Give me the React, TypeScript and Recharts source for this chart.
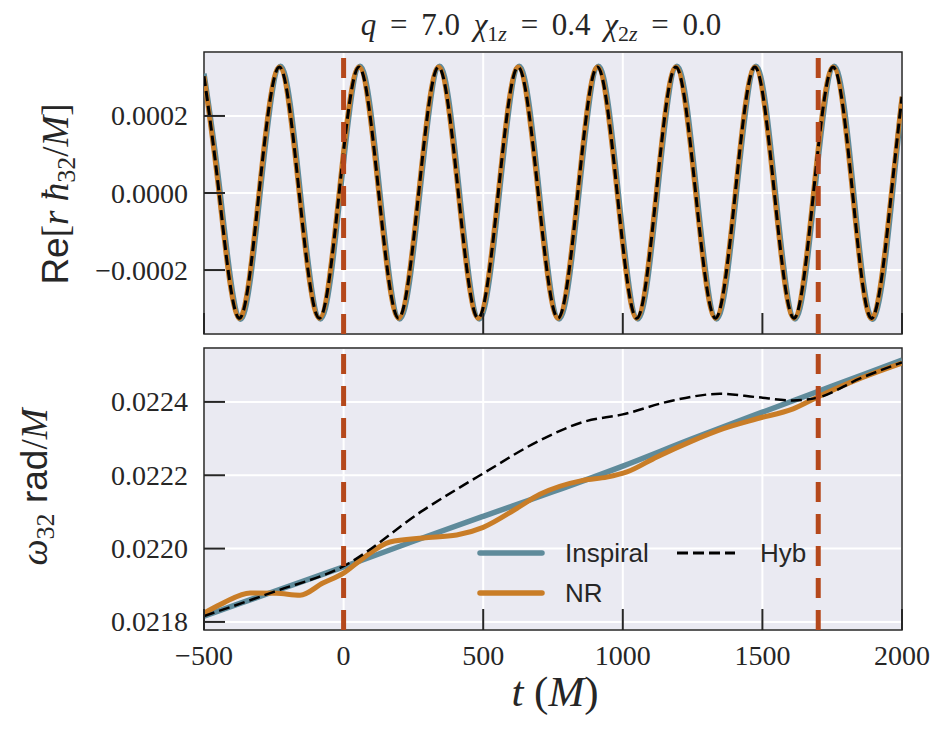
import React from 'react';
import {
  CartesianGrid,
  Line,
  LineChart,
  ReferenceArea,
  ReferenceLine,
  XAxis,
  YAxis,
} from 'recharts';

const xTicks = [-500, 0, 500, 1000, 1500, 2000];
const waveTicks = [-0.0002, 0, 0.0002];
const freqTicks = [0.0218, 0.022, 0.0222, 0.0224];
const matchBounds = [0, 1700];
const xDomain = [-500, 2000];
const waveDomain = [-0.000366, 0.000366];
const freqDomain = [0.021778, 0.022547];

// Re[r h32 / M] -- peaks, troughs and zero crossings
const nrWaveT = [
  -500, -446, -375, -303, -230, -159, -87, -16, 55, 126, 197, 269, 340, 411, 482, 554, 625, 697,
  768, 839, 909, 980, 1050, 1120, 1190, 1261, 1332, 1403, 1473, 1543, 1613, 1683, 1753, 1823,
  1893, 1962, 2000,
];
const nrWave = [
  0.000303, 0, -0.000325, 0, 0.000327, 0, -0.000325, 0, 0.000327, 0, -0.000325, 0, 0.000327, 0,
  -0.000325, 0, 0.000327, 0, -0.000325, 0, 0.000327, 0, -0.000325, 0, 0.000327, 0, -0.000325, 0,
  0.000327, 0, -0.000325, 0, 0.000327, 0, -0.000325, 0, 0.00025,
];
const inspWaveT = [
  -500, -442, -371, -299, -226, -155, -83, -12, 59, 130, 201, 273, 344, 415, 486, 558, 629, 701,
  772, 843, 913, 984, 1054, 1124, 1194, 1265, 1336, 1407, 1477, 1547, 1617, 1687, 1757, 1827,
  1897, 1966, 2000,
];
const inspWave = [
  0.00031, 0, -0.000327, 0, 0.000329, 0, -0.000327, 0, 0.000329, 0, -0.000327, 0, 0.000329, 0,
  -0.000327, 0, 0.000329, 0, -0.000327, 0, 0.000329, 0, -0.000327, 0, 0.000329, 0, -0.000327, 0,
  0.000329, 0, -0.000327, 0, 0.000329, 0, -0.000327, 0, 0.00024,
];

// omega_32 rad/M
const inspFreqT = [-500, -250, 0, 250, 500, 750, 1000, 1250, 1500, 1750, 2000];
const inspFreq = [
  0.021816, 0.021883, 0.02195, 0.02202, 0.022088, 0.022155, 0.022225, 0.0223, 0.022372, 0.022443,
  0.022514,
];
const nrFreqT = [
  -500, -430, -335, -240, -156, -74, 0, 70, 166, 285, 405, 500, 621, 703, 857, 943, 1015, 1122,
  1241, 1360, 1480, 1610, 1700, 1850, 2000,
];
const nrFreq = [
  0.021824, 0.021852, 0.021879, 0.021878, 0.021873, 0.021906, 0.021933, 0.021974, 0.022018,
  0.022029, 0.022037, 0.022058, 0.02211, 0.022148, 0.022186, 0.022195, 0.022209, 0.02225, 0.022291,
  0.022327, 0.022354, 0.022381, 0.022414, 0.022464, 0.022506,
];
const hybFreqT = [-500, -250, 0, 286, 500, 703, 857, 1000, 1180, 1348, 1480, 1610, 1695, 1850, 2000];
const hybFreq = [
  0.021816, 0.021882, 0.021952, 0.022105, 0.022205, 0.022295, 0.022345, 0.022366, 0.022404,
  0.022422, 0.022413, 0.022404, 0.022411, 0.022464, 0.022508,
];

const BLUE = '#5f8b9b';
const ORANGE = '#c97d27';
const RED = '#b5481b';
const INK = '#262626';
const SERIF = '"Liberation Serif", "DejaVu Serif", serif';
const SANS = '"Liberation Sans", "DejaVu Sans", sans-serif';

const toPoints = (ts: number[], vs: number[]) => ts.map((t, i) => ({ t, v: vs[i] }));

const minus = (s: string) => s.replace('-', '\u2212');

function YTick(props: any) {
  const { x, y, payload } = props;
  return (
    <g>
      <line x1={x} y1={y} x2={x + 21} y2={y} stroke={INK} strokeWidth={2} />
      <text x={x - 16} y={y + 9.5} textAnchor="end" fontFamily={SERIF} fontSize={28} fill={INK}>
        {minus(payload.value.toFixed(4))}
      </text>
    </g>
  );
}

function XTick(props: any) {
  const { x, y, payload, showLabel } = props;
  // the tick under a matching-window line is hidden by it
  const covered = matchBounds.includes(payload.value);
  return (
    <g>
      {!covered && <line x1={x} y1={y} x2={x} y2={y - 21} stroke={INK} strokeWidth={2} />}
      {showLabel && (
        <text x={x} y={y + 35} textAnchor="middle" fontFamily={SERIF} fontSize={28} fill={INK}>
          {minus(String(payload.value))}
        </text>
      )}
    </g>
  );
}

function Panel({
  height,
  top,
  bottom,
  axisHeight,
  yDomain,
  yTicks,
  showX,
  children,
}: {
  height: number;
  top: number;
  bottom: number;
  axisHeight: number;
  yDomain: number[];
  yTicks: number[];
  showX: boolean;
  children: React.ReactNode;
}) {
  return (
    <LineChart width={946} height={height} margin={{ top, right: 44, bottom, left: 0 }}>
      <CartesianGrid fill="#eaeaf2" stroke="#ffffff" strokeWidth={2} />
      <XAxis
        dataKey="t"
        type="number"
        domain={xDomain}
        ticks={xTicks}
        interval={0}
        height={axisHeight}
        tickSize={0}
        tickMargin={0}
        axisLine={false}
        tickLine={false}
        allowDataOverflow
        tick={(p: any) => <XTick {...p} showLabel={showX} />}
      />
      <YAxis
        type="number"
        domain={yDomain}
        ticks={yTicks}
        interval={0}
        width={204}
        tickSize={0}
        tickMargin={0}
        axisLine={false}
        tickLine={false}
        allowDataOverflow
        tick={(p: any) => <YTick {...p} />}
      />
      <ReferenceArea
        x1={xDomain[0]}
        x2={xDomain[1]}
        y1={yDomain[0]}
        y2={yDomain[1]}
        fill="none"
        stroke={INK}
        strokeWidth={1.5}
      />
      {children}
      {matchBounds.map((b) => (
        <ReferenceLine key={b} x={b} stroke={RED} strokeWidth={5} strokeDasharray="20 12" />
      ))}
    </LineChart>
  );
}

export default function App() {
  return (
    <div style={{ position: 'absolute', left: 0, top: 0, width: 946, height: 732, background: '#fff' }}>
      <div style={{ position: 'absolute', left: 0, top: 0 }}>
        <Panel height={340} top={52} bottom={0} axisHeight={6} yDomain={waveDomain} yTicks={waveTicks} showX={false}>
          <Line data={toPoints(inspWaveT, inspWave)} dataKey="v" type="natural" stroke={BLUE}
            strokeWidth={5.5} dot={false} isAnimationActive={false} />
          <Line data={toPoints(nrWaveT, nrWave)} dataKey="v" type="natural" stroke={ORANGE}
            strokeWidth={5} dot={false} isAnimationActive={false} />
          <Line data={toPoints(nrWaveT, nrWave)} dataKey="v" type="natural" stroke="#000"
            strokeWidth={3} strokeDasharray="10 5" dot={false} isAnimationActive={false} />
        </Panel>
      </div>
      <div style={{ position: 'absolute', left: 0, top: 340 }}>
        <Panel height={392} top={8} bottom={52} axisHeight={50} yDomain={freqDomain} yTicks={freqTicks} showX>
          <Line data={toPoints(inspFreqT, inspFreq)} dataKey="v" type="monotone" stroke={BLUE}
            strokeWidth={5.5} dot={false} isAnimationActive={false} />
          <Line data={toPoints(nrFreqT, nrFreq)} dataKey="v" type="monotone" stroke={ORANGE}
            strokeWidth={5} dot={false} isAnimationActive={false} />
          <Line data={toPoints(hybFreqT, hybFreq)} dataKey="v" type="monotone" stroke="#000"
            strokeWidth={2.5} strokeDasharray="11 5" dot={false} isAnimationActive={false} />
        </Panel>
      </div>
      <svg width={946} height={732} style={{ position: 'absolute', left: 0, top: 0, pointerEvents: 'none' }}>
        <text x={541} y={35} textAnchor="middle" fontFamily={SERIF} fontSize={31} fill={INK} wordSpacing={6}>
          <tspan fontStyle="italic">q</tspan>
          <tspan>{' = 7.0 '}</tspan>
          <tspan fontStyle="italic">χ</tspan>
          <tspan fontSize={22} dy={6}>1</tspan>
          <tspan fontSize={22} fontStyle="italic">z</tspan>
          <tspan dy={-6}>{' = 0.4 '}</tspan>
          <tspan fontStyle="italic">χ</tspan>
          <tspan fontSize={22} dy={6}>2</tspan>
          <tspan fontSize={22} fontStyle="italic">z</tspan>
          <tspan dy={-6}>{' = 0.0'}</tspan>
        </text>
        <text transform="translate(68,194) rotate(-90)" textAnchor="middle" fill={INK} fontSize={37} fontFamily={SERIF}>
          <tspan fontFamily={SANS}>Re</tspan>
          <tspan>[</tspan>
          <tspan fontStyle="italic">{'r ħ'}</tspan>
          <tspan fontSize={26} dy={7}>32</tspan>
          <tspan dy={-7}>/</tspan>
          <tspan fontStyle="italic">M</tspan>
          <tspan>]</tspan>
        </text>
        <text transform="translate(47,487) rotate(-90)" textAnchor="middle" fill={INK} fontSize={37} fontFamily={SERIF}>
          <tspan fontStyle="italic">ω</tspan>
          <tspan fontSize={26} dy={7}>32</tspan>
          <tspan dy={-7} fontFamily={SANS}>{' rad'}</tspan>
          <tspan>/</tspan>
          <tspan fontStyle="italic">M</tspan>
        </text>
        <text x={555} y={706} textAnchor="middle" fill={INK} fontSize={43} fontFamily={SERIF}>
          <tspan fontStyle="italic">t</tspan>
          <tspan>{' ('}</tspan>
          <tspan fontStyle="italic">M</tspan>
          <tspan>)</tspan>
        </text>
        <g fontFamily={SANS} fontSize={26} fill={INK}>
          <line x1={480} y1={553} x2={542} y2={553} stroke={BLUE} strokeWidth={5.5} strokeLinecap="round" />
          <text x={565} y={562}>Inspiral</text>
          <line x1={480} y1={593} x2={542} y2={593} stroke={ORANGE} strokeWidth={5.5} strokeLinecap="round" />
          <text x={565} y={602}>NR</text>
          <line x1={677} y1={553} x2={735} y2={553} stroke="#000" strokeWidth={3} strokeDasharray="11 5" />
          <text x={760} y={562}>Hyb</text>
        </g>
      </svg>
    </div>
  );
}
